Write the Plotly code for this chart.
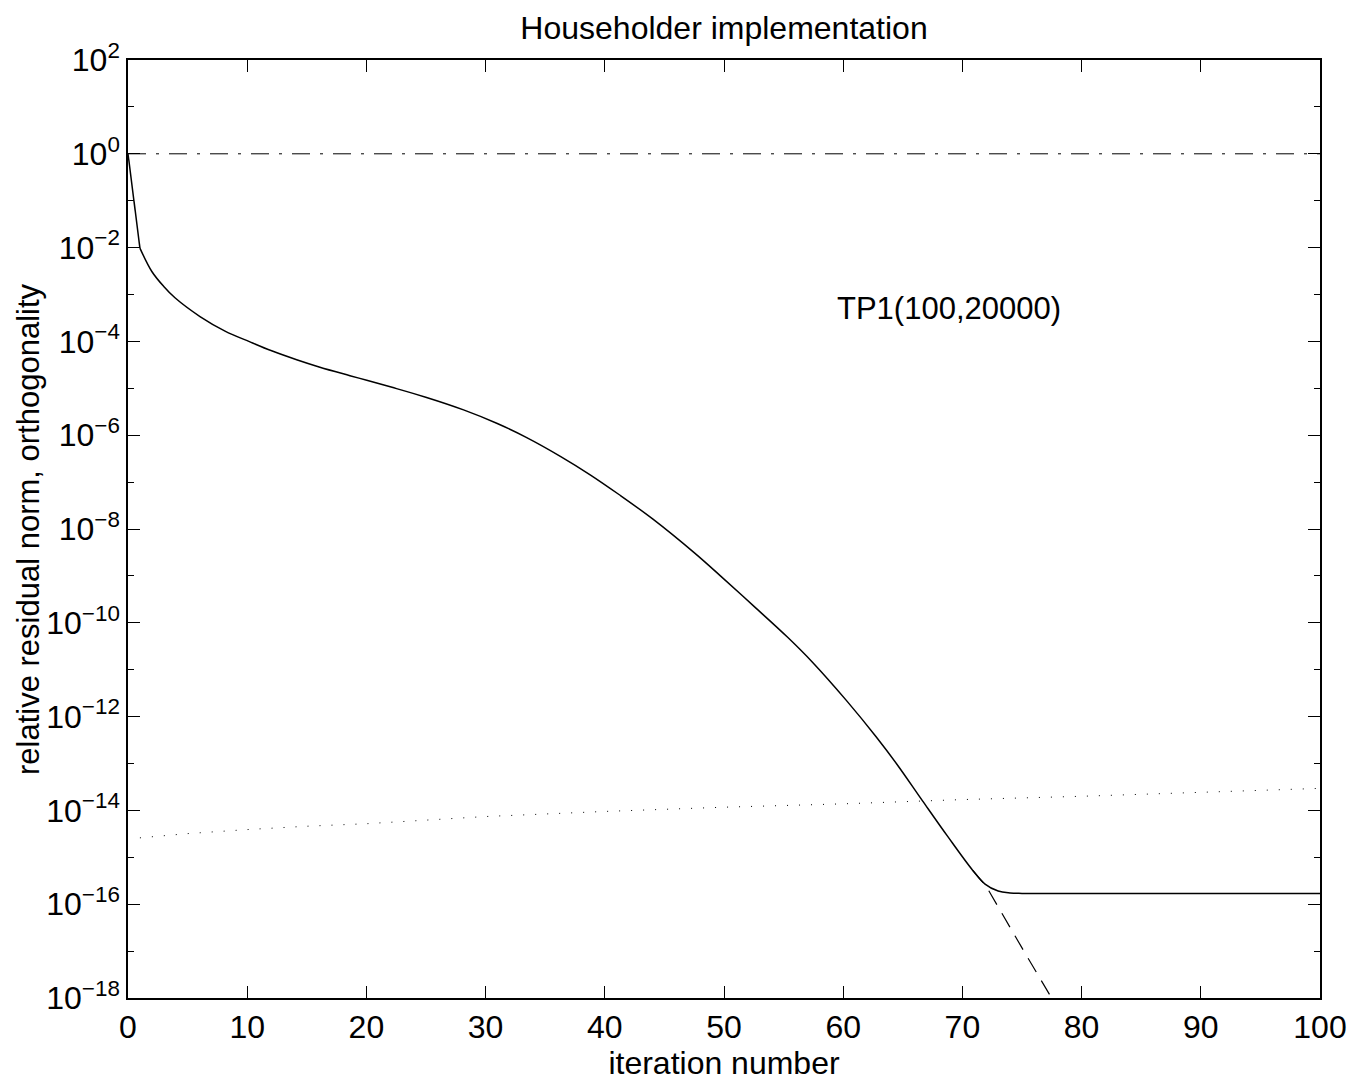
import plotly.graph_objects as go

# ---- data ----
# relative residual norm (solid)
resid_iter = [0, 1, 2, 3, 3.94, 6.04, 8.14, 10.23, 12.05, 14.15, 16.1, 18.62, 20.03,
              22.15, 24.98, 28.15, 30.98, 33.45, 36.27, 38.74, 41.22, 44.04, 47.57,
              49.70, 52.52, 55.34, 57.46, 60.28, 62.76, 64.52, 66.64, 68.75, 70.87,
              71.9, 73.0, 74.0, 75.0, 100.0]
resid_vals = [1.0, 9.77e-3, 3.09e-3, 1.48e-3, 8.51e-4, 3.39e-4, 1.66e-4, 9.77e-5,
              6.31e-5, 4.07e-5, 2.82e-5, 1.86e-5, 1.48e-5, 1.05e-5, 6.46e-6, 3.47e-6,
              1.78e-6, 8.91e-7, 3.55e-7, 1.45e-7, 5.37e-8, 1.62e-8, 3.02e-9, 1.0e-9,
              2.24e-10, 4.90e-11, 1.41e-11, 2.19e-12, 3.72e-13, 9.55e-14, 1.62e-14,
              2.82e-15, 5.25e-16, 2.69e-16, 1.91e-16, 1.74e-16, 1.70e-16, 1.70e-16]

# true residual continuing below the floor (dashed)
true_iter = [70.87, 72.0, 75.0, 78.0]
true_vals = [5.25e-16, 2.4e-16, 1.17e-17, 6.0e-19]

# loss of orthogonality (dotted)
orth_iter = [1, 5, 10, 15, 20, 25, 30, 40, 50, 60, 70, 80, 90, 100]
orth_vals = [2.6e-15, 3.2e-15, 3.9e-15, 4.6e-15, 5.2e-15, 6.3e-15, 7.4e-15, 9.5e-15,
             1.17e-14, 1.38e-14, 1.7e-14, 2.0e-14, 2.45e-14, 2.95e-14]

# reference level (dash-dot)
ref_iter = [0, 100]
ref_vals = [1.0, 1.0]

major_exps = [-18, -16, -14, -12, -10, -8, -6, -4, -2, 0, 2]
minor_exps = [-17, -15, -13, -11, -9, -7, -5, -3, -1, 1]
x_ticks = [0, 10, 20, 30, 40, 50, 60, 70, 80, 90, 100]

FONT = "Liberation Sans, Arial, Helvetica, sans-serif"
FS = 32
L, R, T, B = 128, 33, 60, 83
W, H = 1353, 1081

fig = go.Figure()
fig.add_trace(go.Scatter(x=ref_iter, y=ref_vals, mode="lines",
                         line=dict(color="black", width=1, dash="18px,10px,3px,10px"),
                         showlegend=False))
fig.add_trace(go.Scatter(x=orth_iter, y=orth_vals, mode="lines",
                         line=dict(color="black", width=1, dash="1px,11px"),
                         showlegend=False))
fig.add_trace(go.Scatter(x=true_iter, y=true_vals, mode="lines",
                         line=dict(color="black", width=1.2, dash="16px,10px"),
                         showlegend=False))
fig.add_trace(go.Scatter(x=resid_iter[:2], y=resid_vals[:2], mode="lines",
                         line=dict(color="black", width=1.5),
                         showlegend=False))
fig.add_trace(go.Scatter(x=resid_iter[1:], y=resid_vals[1:], mode="lines",
                         line=dict(color="black", width=1.5, shape="spline",
                                   smoothing=1.0),
                         showlegend=False))


def lbl(e):
    s = str(e).replace("-", "\u2212")
    return "10<sup>" + s + "</sup>"


fig.update_layout(
    width=W, height=H,
    margin=dict(l=L, r=R, t=T, b=B, autoexpand=False),
    paper_bgcolor="white", plot_bgcolor="white",
    font=dict(family=FONT, size=FS, color="black"),
    title=dict(text="Householder implementation", x=(L + W - R) / 2 / W,
               xanchor="center", y=1 - 28 / H, yanchor="middle", yref="container",
               font=dict(family=FONT, size=FS, color="black")),
    xaxis=dict(range=[0, 100], tickvals=x_ticks, ticks="inside", ticklen=12,
               tickwidth=1, tickcolor="black", showline=True, linecolor="black",
               linewidth=1.5, mirror="ticks", showgrid=False, zeroline=False,
               automargin=False,
               title=dict(text="iteration number", standoff=2,
                          font=dict(family=FONT, size=FS)),
               tickfont=dict(family=FONT, size=FS)),
    yaxis=dict(type="log", range=[-18, 2],
               tickvals=[10.0 ** e for e in major_exps],
               ticktext=[lbl(e) for e in major_exps],
               ticks="inside", ticklen=12, tickwidth=1, tickcolor="black",
               minor=dict(tickvals=[10.0 ** e for e in minor_exps], ticks="inside",
                          ticklen=6, tickwidth=1, tickcolor="black", showgrid=False),
               showline=True, linecolor="black", linewidth=1.5, mirror="ticks",
               showgrid=False, zeroline=False, automargin=False,
               tickfont=dict(family=FONT, size=FS)),
)

# y-axis title placed as a rotated annotation (centre near x = 28 px)
fig.add_annotation(x=(28 - L) / (W - L - R), y=0.5, xref="paper", yref="paper",
                   text="relative residual norm, orthogonality", textangle=-90,
                   showarrow=False, xanchor="center", yanchor="middle",
                   font=dict(family=FONT, size=FS - 1, color="black"))

fig.add_annotation(x=59.3, y=-3.29, xref="x", yref="y", text="TP1(100,20000)",
                   showarrow=False, xanchor="left", yanchor="middle",
                   font=dict(family=FONT, size=FS - 1, color="black"))

fig.write_html("out.html", config={"displayModeBar": False},
               post_script="document.body.style.margin='0px';"
                           "document.body.style.overflow='hidden';")
